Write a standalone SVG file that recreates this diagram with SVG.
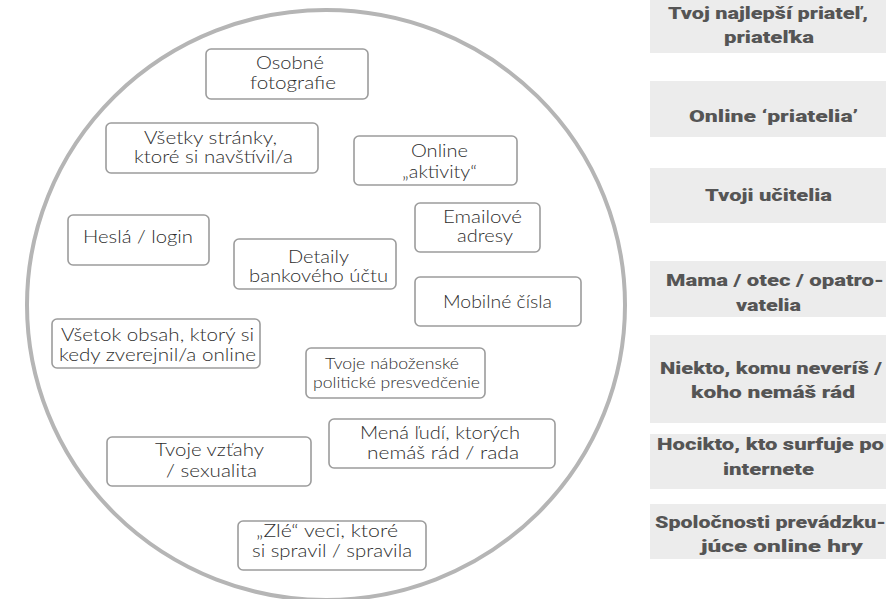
<svg xmlns="http://www.w3.org/2000/svg" width="895" height="599" viewBox="0 0 895 599">
<style>
.ring{fill:none;stroke:#b5b5b5;stroke-width:4}
.box{fill:#fff;stroke:#9c9c9c;stroke-width:1.6}
.t{font-family:Lato,"Open Sans","Liberation Sans",sans-serif;font-weight:300;font-size:17px;fill:#2e2e2e}
.tc{font-size:15.5px}
.rb{fill:#ececec}
.r{font-family:Roboto,"Liberation Sans",sans-serif;font-weight:900;font-size:16.5px;fill:#555}
</style>
<rect width="895" height="599" fill="#fff"/>
<ellipse class="ring" cx="326" cy="305" rx="299" ry="295"/>

<g id="osobne">
<rect class="box" x="206" y="49" width="162" height="50" rx="5"/>
<text class="t" x="256" y="69" textLength="68" lengthAdjust="spacingAndGlyphs">Osobné</text>
<text class="t" x="250" y="89" textLength="86" lengthAdjust="spacingAndGlyphs">fotografie</text>
</g>
<g id="vsetky-stranky">
<rect class="box" x="106" y="123" width="212" height="50" rx="5"/>
<text class="t" x="144" y="144" textLength="133" lengthAdjust="spacingAndGlyphs">Všetky stránky,</text>
<text class="t" x="134" y="163" textLength="159" lengthAdjust="spacingAndGlyphs">ktoré si navštívil/a</text>
</g>
<g id="online-aktivity">
<rect class="box" x="354" y="136" width="163" height="49" rx="5"/>
<text class="t" x="411" y="157" textLength="57" lengthAdjust="spacingAndGlyphs">Online</text>
<text class="t" x="402" y="178" textLength="75" lengthAdjust="spacingAndGlyphs">„aktivity“</text>
</g>
<g id="hesla">
<rect class="box" x="68" y="215" width="141" height="50" rx="5"/>
<text class="t" x="83" y="243" textLength="110" lengthAdjust="spacingAndGlyphs">Heslá / login</text>
</g>
<g id="emailove">
<rect class="box" x="415" y="203" width="125" height="49" rx="5"/>
<text class="t" x="443" y="223" textLength="79" lengthAdjust="spacingAndGlyphs">Emailové</text>
<text class="t" x="457" y="242" textLength="56" lengthAdjust="spacingAndGlyphs">adresy</text>
</g>
<g id="banka">
<rect class="box" x="234" y="239" width="162" height="50" rx="5"/>
<text class="t" x="288" y="263" textLength="61" lengthAdjust="spacingAndGlyphs">Detaily</text>
<text class="t" x="249" y="282" textLength="139" lengthAdjust="spacingAndGlyphs">bankového účtu</text>
</g>
<g id="mobilne">
<rect class="box" x="415" y="277" width="166" height="49" rx="5"/>
<text class="t" x="443" y="308" textLength="109" lengthAdjust="spacingAndGlyphs">Mobilné čísla</text>
</g>
<g id="obsah">
<rect class="box" x="52" y="319" width="208" height="49" rx="5"/>
<text class="t" x="61" y="341" textLength="193" lengthAdjust="spacingAndGlyphs">Všetok obsah, ktorý si</text>
<text class="t" x="59" y="361" textLength="197" lengthAdjust="spacingAndGlyphs">kedy zverejnil/a online</text>
</g>
<g id="presvedcenie">
<rect class="box" x="306" y="348" width="179" height="50" rx="5"/>
<text class="t tc" x="325" y="369" textLength="134" lengthAdjust="spacingAndGlyphs">Tvoje náboženské</text>
<text class="t tc" x="313" y="388" textLength="167" lengthAdjust="spacingAndGlyphs">politické presvedčenie</text>
</g>
<g id="mena">
<rect class="box" x="329" y="419" width="226" height="49" rx="5"/>
<text class="t" x="360" y="439" textLength="160" lengthAdjust="spacingAndGlyphs">Mená ľudí, ktorých</text>
<text class="t" x="367" y="459" textLength="152" lengthAdjust="spacingAndGlyphs">nemáš rád / rada</text>
</g>
<g id="vztahy">
<rect class="box" x="107" y="437" width="204" height="49" rx="5"/>
<text class="t" x="155" y="456" textLength="109" lengthAdjust="spacingAndGlyphs">Tvoje vzťahy</text>
<text class="t" x="166" y="477" textLength="91" lengthAdjust="spacingAndGlyphs">/ sexualita</text>
</g>
<g id="zle-veci">
<rect class="box" x="238" y="521" width="188" height="49" rx="5"/>
<text class="t" x="256" y="537" textLength="142" lengthAdjust="spacingAndGlyphs">„Zlé“ veci, ktoré</text>
<text class="t" x="252" y="557" textLength="160" lengthAdjust="spacingAndGlyphs">si spravil / spravila</text>
</g>

<g id="najlepsi-priatel">
<rect class="rb" x="650" y="-2" width="236" height="55"/>
<text class="r" x="668" y="19" textLength="200" lengthAdjust="spacingAndGlyphs">Tvoj najlepší priateľ,</text>
<text class="r" x="724" y="43" textLength="90" lengthAdjust="spacingAndGlyphs">priateľka</text>
</g>
<g id="online-priatelia">
<rect class="rb" x="650" y="81" width="236" height="56"/>
<text class="r" x="689" y="122" textLength="169" lengthAdjust="spacingAndGlyphs">Online ‘priatelia’</text>
</g>
<g id="ucitelia">
<rect class="rb" x="650" y="168" width="236" height="55"/>
<text class="r" x="705" y="201" textLength="127" lengthAdjust="spacingAndGlyphs">Tvoji učitelia</text>
</g>
<g id="rodicia">
<rect class="rb" x="650" y="261" width="236" height="56"/>
<text class="r" x="666" y="286" textLength="218" lengthAdjust="spacingAndGlyphs">Mama / otec / opatro-</text>
<text class="r" x="736" y="311" textLength="65" lengthAdjust="spacingAndGlyphs">vatelia</text>
</g>
<g id="niekto">
<rect class="rb" x="650" y="335" width="236" height="88"/>
<text class="r" x="660" y="374" textLength="222" lengthAdjust="spacingAndGlyphs">Niekto, komu neveríš /</text>
<text class="r" x="691" y="398" textLength="164" lengthAdjust="spacingAndGlyphs">koho nemáš rád</text>
</g>
<g id="hocikto">
<rect class="rb" x="650" y="434" width="236" height="55"/>
<text class="r" x="657" y="450" textLength="227" lengthAdjust="spacingAndGlyphs">Hocikto, kto surfuje po</text>
<text class="r" x="723" y="475" textLength="91" lengthAdjust="spacingAndGlyphs">internete</text>
</g>
<g id="spolocnosti">
<rect class="rb" x="650" y="504" width="236" height="55"/>
<text class="r" x="655" y="528" textLength="231" lengthAdjust="spacingAndGlyphs">Spoločnosti prevádzku-</text>
<text class="r" x="701" y="552" textLength="162" lengthAdjust="spacingAndGlyphs">júce online hry</text>
</g>
</svg>
